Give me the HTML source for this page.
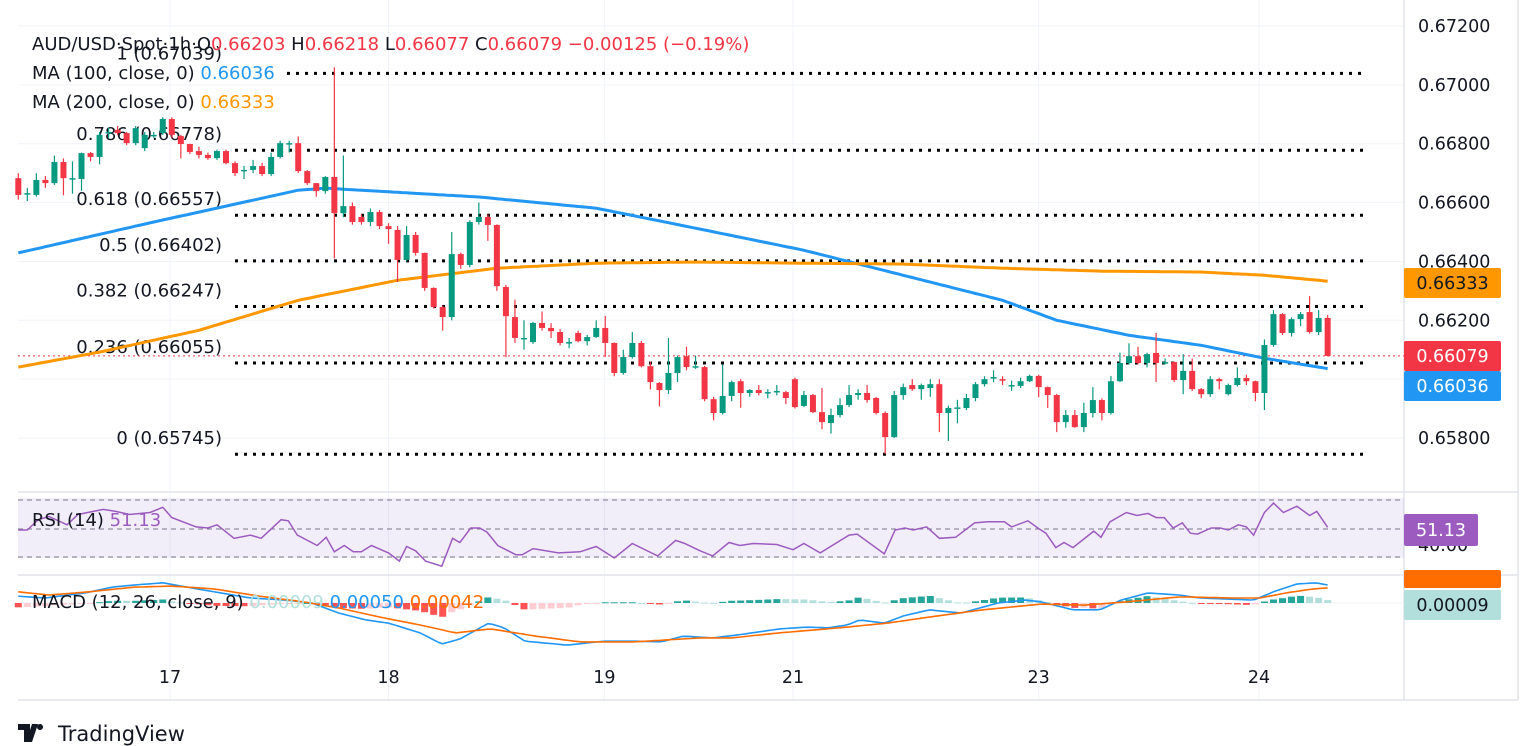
<!DOCTYPE html>
<html><head><meta charset="utf-8"><style>
html,body{margin:0;padding:0;background:#fff;}
svg{display:block;font-family:"DejaVu Sans","Liberation Sans",sans-serif;}
</style></head><body>
<svg id="chart" width="1536" height="746" viewBox="0 0 1536 746" xmlns="http://www.w3.org/2000/svg">
<rect x="0" y="0" width="1536" height="746" fill="#fff"/>
<g id="grid"></g>
<rect x="18" y="498" width="1386" height="60" fill="#7e57c2" fill-opacity="0.1"/>
<g id="fib"></g>
<g id="ma"></g>
<g id="candles"></g>
<g id="rsi"></g>
<g id="macd"></g>
<g id="axis"></g>
<g font-size="18">
<text x="32" y="50" fill="#131722">AUD/USD·Spot·1h·O<tspan fill="#f23645">0.66203</tspan> H<tspan fill="#f23645">0.66218</tspan> L<tspan fill="#f23645">0.66077</tspan> C<tspan fill="#f23645">0.66079</tspan> <tspan fill="#f23645">−0.00125 (−0.19%)</tspan></text>
<text x="32" y="79" fill="#131722">MA (100, close, 0) <tspan fill="#2196f3">0.66036</tspan></text>
<text x="32" y="108" fill="#131722">MA (200, close, 0) <tspan fill="#ff9800">0.66333</tspan></text>
<text x="32" y="526" fill="#131722">RSI (14) <tspan fill="#9c5bbf">51.13</tspan></text>
<text x="32" y="608" fill="#131722">MACD (12, 26, close, 9) <tspan fill="#b2dfdb">0.00009</tspan> <tspan fill="#2196f3">0.00050</tspan> <tspan fill="#ff6d00">0.00042</tspan></text>
</g>
<g>
<path d="M18 724h12v18h-6v-12h-6z M32 724h6l-6 18h-6z M40 724a3 3 0 1 0 0.01 0z" fill="#131722"/>
<text x="58" y="741" font-size="21" fill="#131722">TradingView</text>
</g>
</svg>
<script>
// ---- data ----
const opens=[.66683,.66632,.66626,.66677,.66666,.66738,.66683,.66680,.66768,.66755,.66840,.66847,.66836,.66802,.66785,.66830,.66836,.66884,.66826,.66799,.66775,.66762,.66751,.66775,.66734,.66711,.66711,.66724,.66697,.66755,.66802,.66802,.66707,.66666,.66639,.66687,.66564,.66588,.66551,.66534,.66568,.66520,.66507,.66405,.66490,.66429,.66310,.66245,.66211,.66425,.66388,.66534,.66551,.66524,.66313,.66211,.66140,.66126,.66191,.66174,.66160,.66126,.66157,.66129,.66143,.66174,.66123,.66021,.66075,.66123,.66044,.65987,.65963,.66021,.66078,.66041,.66041,.65932,.65885,.65943,.65993,.65953,.65963,.65956,.65956,.65956,.66000,.65909,.65946,.65888,.65851,.65878,.65912,.65946,.65953,.65936,.65885,.65803,.65946,.65980,.65966,.65970,.65983,.65885,.65902,.65902,.65936,.65983,.66004,.66000,.65980,.65977,.65993,.66011,.65973,.65946,.65854,.65878,.65837,.65885,.65929,.65885,.65993,.66055,.66078,.66055,.66089,.66058,.66058,.65997,.66028,.65966,.65949,.66000,.65949,.65980,.66004,.65993,.65953,.66116,.66221,.66157,.66204,.66228,.66160,.66208];
const closes=[.66626,.66632,.66677,.66666,.66738,.66683,.66683,.66768,.66755,.66830,.66840,.66836,.66802,.66853,.66830,.66830,.66884,.66830,.66799,.66772,.66762,.66751,.66775,.66734,.66700,.66711,.66724,.66697,.66755,.66802,.66802,.66707,.66666,.66639,.66687,.66564,.66588,.66534,.66534,.66568,.66520,.66510,.66405,.66490,.66429,.66310,.66245,.66211,.66425,.66388,.66534,.66551,.66524,.66316,.66214,.66140,.66140,.66191,.66174,.66163,.66123,.66126,.66129,.66143,.66174,.66123,.66021,.66075,.66123,.66044,.65990,.65963,.66021,.66075,.66041,.66044,.65932,.65885,.65943,.65990,.65953,.65963,.65953,.65956,.65960,.65936,.65905,.65946,.65888,.65854,.65878,.65912,.65946,.65953,.65929,.65885,.65803,.65946,.65973,.65966,.65980,.65983,.65885,.65902,.65904,.65936,.65983,.66000,.66007,.65997,.65980,.65993,.66011,.65973,.65946,.65854,.65878,.65837,.65885,.65929,.65885,.65993,.66055,.66078,.66055,.66085,.66055,.66058,.65997,.66028,.65966,.65949,.66000,.65993,.65980,.66004,.65993,.65953,.66116,.66221,.66157,.66204,.66221,.66160,.66208,.66079];
const highs=[.66700,.66650,.66700,.66690,.66760,.66750,.66740,.66770,.66772,.66840,.66855,.66860,.66840,.66860,.66840,.66840,.66890,.66890,.66830,.66800,.66790,.66770,.66780,.66780,.66740,.66725,.66745,.66735,.66770,.66810,.66810,.66825,.66710,.66666,.66690,.67060,.66760,.66600,.66560,.66580,.66575,.66530,.66520,.66520,.66500,.66430,.66312,.66250,.66500,.66430,.66540,.66600,.66560,.66526,.66320,.66270,.66200,.66195,.66230,.66190,.66170,.66140,.66165,.66150,.66200,.66215,.66125,.66100,.66160,.66130,.66060,.65990,.66140,.66080,.66110,.66080,.66045,.65940,.66050,.65995,.66000,.65966,.65980,.65966,.65980,.65960,.66005,.65960,.65950,.65970,.65900,.65935,.65980,.65966,.65980,.65940,.65890,.65960,.65985,.66000,.65985,.66000,.66000,.65910,.65930,.65950,.65990,.66010,.66030,.66010,.65995,.66005,.66015,.66015,.65975,.65950,.65895,.65895,.65920,.65973,.65935,.66011,.66090,.66122,.66110,.66090,.66157,.66070,.66060,.66085,.66070,.65970,.66010,.66005,.65985,.66040,.66015,.65995,.66135,.66235,.66225,.66210,.66228,.66282,.66235,.66218];
const lows=[.66610,.66605,.66620,.66650,.66660,.66625,.66630,.66640,.66740,.66730,.66820,.66830,.66795,.66795,.66775,.66820,.66830,.66820,.66750,.66765,.66750,.66745,.66745,.66730,.66690,.66680,.66700,.66690,.66690,.66750,.66770,.66700,.66660,.66620,.66630,.66410,.66550,.66525,.66525,.66520,.66510,.66460,.66330,.66400,.66420,.66300,.66240,.66165,.66200,.66375,.66380,.66525,.66470,.66300,.66075,.66123,.66100,.66120,.66165,.66140,.66115,.66105,.66125,.66115,.66140,.66075,.66010,.66015,.66070,.66040,.65965,.65907,.65950,.65990,.66030,.66035,.65925,.65860,.65880,.65925,.65903,.65940,.65945,.65935,.65945,.65915,.65900,.65905,.65885,.65830,.65815,.65870,.65905,.65930,.65920,.65880,.65745,.65800,.65930,.65960,.65930,.65940,.65820,.65790,.65850,.65895,.65925,.65975,.65990,.65980,.65960,.65970,.65990,.65939,.65902,.65820,.65835,.65835,.65820,.65870,.65860,.65880,.65990,.66050,.66050,.66040,.65990,.66050,.65990,.65949,.65960,.65935,.65940,.65965,.65945,.65975,.65980,.65925,.65895,.66110,.66150,.66145,.66180,.66155,.66150,.66077];
const ma100Idx=[0,15,31,34,51,64,75,87,98,109,115,123,131,138,145];
const ma100Val=[.66429,.66534,.66642,.66649,.66619,.66581,.66513,.66438,.66353,.66268,.66200,.66149,.66115,.66071,.66036];
const ma200Idx=[0,9,20,31,42,53,64,75,87,98,109,120,131,138,145];
const ma200Val=[.66041,.66092,.66166,.66268,.66336,.66377,.66394,.66398,.66394,.66391,.66377,.66367,.66364,.66353,.66333];
const fibRatios=["1","0.786","0.618","0.5","0.382","0.236","0"];
const fibPrices=[0.67039,0.66778,0.66557,0.66402,0.66247,0.66055,0.65745];
const priceTicks=[0.672,0.670,0.668,0.666,0.664,0.662,0.660,0.658];
const dayLabels=["17","18","19","21","23","24"];
const dayIdx=[16.8,41,64.9,85.8,113,137.4];
const rsiIdx=[0,1,2.2,3.4,5.4,6.6,9.4,10.8,12.3,14.6,16,17,19.7,21,22,23.9,25.7,26.9,29.1,29.9,30.9,33.1,34.1,35,36.1,37.1,38,39.1,41,42.2,43,44,45.1,46.9,48.1,48.9,50.1,51.1,51.9,53.1,55.1,55.8,57,59.8,62.2,64,66,68,70.8,72.8,73.8,75.5,76.9,78.7,79.9,81.4,84,85.8,87,88.8,92,92.9,95.9,97.1,98.2,99.1,100.6,102,103.8,105.9,107.4,109.2,110,111.8,112.9,113.8,114.9,115.8,116.8,119.1,119.9,120.9,122.7,123.9,125.1,126,126.9,127.9,128.9,129.8,130.6,132.1,133.1,134,135.1,136,136.8,138,139,140.1,141.6,143,143.8,145];
const rsiVal=[49.3,49.3,56.2,58.3,52.8,59.7,63.1,61.7,59.7,61.0,64.5,57.6,51.4,50.7,52.8,43.8,45.9,43.8,56.2,55.5,45.9,39.0,44.5,34.8,39.0,34.8,34.8,39.0,34.1,28.6,38.3,35.5,28.6,25.2,43.8,41.0,50.7,50.7,47.9,39.0,32.8,32.8,36.9,34.1,34.8,38.3,30.7,40.3,32.1,42.4,40.3,35.5,32.1,41.0,39.0,40.3,39.7,36.2,40.3,34.1,45.9,46.6,33.4,49.3,50.7,49.3,51.4,43.8,44.5,54.1,54.8,54.8,51.4,55.5,50.7,47.2,37.6,41.0,37.6,48.6,44.5,54.8,61.0,59.0,60.4,57.6,57.6,50.7,54.1,47.2,46.6,50.7,50.7,49.3,52.8,51.4,45.9,61.0,67.3,61.0,65.2,59.0,61.7,51.13];
const macdIdx=[0,3,7.4,10.4,12.8,16,18.7,21.7,25.7,29.6,32.5,35.5,38.5,41,42.7,44.5,46.9,48.9,52.1,53.8,56.1,60.8,64.8,68.2,71.2,73.6,76.9,79.6,84.3,87.3,89.7,91.8,93.2,95.9,98,100.9,104.4,108.5,111.5,113.3,116.8,119.8,122.1,125.1,128.6,130.8,133.9,136.8,139,141.6,143.7,145];
const macdVal=[.00019,.00014,.00028,.00044,.00050,.00056,.00044,.00031,.00014,.00008,0,-.00028,-.00047,-.00056,-.00069,-.00083,-.00114,-.00100,-.00056,-.00069,-.00106,-.00117,-.00106,-.00106,-.00108,-.00092,-.00097,-.00089,-.00072,-.00067,-.00069,-.00061,-.00047,-.00056,-.00036,-.00019,-.00028,0,.00008,.00003,-.00019,-.00019,.00008,.00028,.00022,.00014,.00011,.00008,.00031,.00053,.00056,.00050];
const sigIdx=[0,3.4,7.8,12.8,17,21.7,26.7,31.6,35.5,40,44.5,48.4,52.3,57.3,62.2,68.2,75.5,79,84.3,90.9,96.2,100.9,106.8,113.3,118,122.7,128.6,134.5,137.5,140.4,143.4,145];
const sigVal=[.00031,.00022,.00031,.00044,.00047,.00039,.00019,.00003,-.00014,-.00039,-.00061,-.00083,-.00072,-.00092,-.00108,-.00108,-.00097,-.00097,-.00083,-.00069,-.00056,-.00039,-.00019,-.00003,-.00006,.00003,.00017,.00014,.00014,.00028,.00039,.00042];

// ---- scales ----
const NS="http://www.w3.org/2000/svg";
const X=i=>18.3+i*9.03;
const Y=p=>26+(0.672-p)*29430;
const RY=v=>529-(v-50)*1.5;
const MY=v=>603-v*36000;
function mk(tag,attrs,parent){const e=document.createElementNS(NS,tag);for(const k in attrs)e.setAttribute(k,attrs[k]);parent.appendChild(e);return e;}
function interp(ix,vals,i){if(i<=ix[0])return vals[0];for(let k=1;k<ix.length;k++){if(i<=ix[k]){const t=(i-ix[k-1])/(ix[k]-ix[k-1]);return vals[k-1]+t*(vals[k]-vals[k-1]);}}return vals[vals.length-1];}

// grid
const grid=document.getElementById('grid');
priceTicks.forEach(p=>{const l=mk('line',{x1:18,x2:1404,y1:Y(p),y2:Y(p),stroke:'#f0f3fa','stroke-width':1},grid);

});
dayIdx.forEach(i=>{const l=mk('line',{x1:X(i),x2:X(i),y1:0,y2:700,stroke:'#f0f3fa','stroke-width':1},grid);

});
[[18,492,1518,492],[18,575,1518,575],[18,700,1518,700],[1518,0,1518,700],[1404,0,1404,700]].forEach(c=>{const l=mk('line',{x1:c[0],y1:c[1],x2:c[2],y2:c[3],stroke:'#e0e3eb','stroke-width':1.5},grid);

});
[500,529,557].forEach(y=>{const l=mk('line',{x1:18,x2:1404,y1:y,y2:y,stroke:'#787b86','stroke-width':1,'stroke-dasharray':'5 4'},grid);

});
const zl=mk('line',{x1:18,x2:1404,y1:603,y2:603,stroke:'#f0f3fa'},grid);



// fib
const fib=document.getElementById('fib');
fibPrices.forEach((p,k)=>{const y=Y(p);
const l=mk('line',{x1:k==0?287:235,x2:1365,y1:y,y2:y,stroke:'#000','stroke-width':3,'stroke-dasharray':'3 6'},fib);


const t=mk('text',{x:222,y:k==0?y-14:y-10,'text-anchor':'end','font-size':18,fill:'#131722'},fib);
t.textContent=fibRatios[k]+' ('+p.toFixed(5)+')';

});
const cl=mk('line',{x1:18,x2:1404,y1:Y(closes[closes.length-1]),y2:Y(closes[closes.length-1]),stroke:'#f23645','stroke-width':1,'stroke-dasharray':'2 3'},fib);



// MAs
const ma=document.getElementById('ma');
function line(ix,vals,yf,color,w,parent,name,n){let d='';for(let i=0;i<=n;i+=0.5){const v=interp(ix,vals,i);d+=(i?'L':'M')+X(i).toFixed(1)+' '+yf(v).toFixed(1);}
const p=mk('path',{d:d,fill:'none',stroke:color,'stroke-width':w,'stroke-linejoin':'round'},parent);

}
line(ma100Idx,ma100Val,Y,'#2196f3',3,ma,'ma100-line',145);
line(ma200Idx,ma200Val,Y,'#ff9800',3,ma,'ma200-line',145);

// candles
const cg=document.getElementById('candles');
opens.forEach((o,i)=>{const c=closes[i],up=c>=o,col=up?'#089981':'#f23645',x=X(i);
const w=mk('line',{x1:x,x2:x,y1:Y(highs[i]),y2:Y(lows[i]),stroke:col,'stroke-width':1.2},cg);


const top=Y(Math.max(o,c)),h=Math.max(1.5,Math.abs(Y(o)-Y(c)));
const b=mk('rect',{x:x-3,y:top,width:6,height:h,fill:col},cg);

});

// RSI
const rg=document.getElementById('rsi');
let rd='';rsiIdx.forEach((ix,k)=>{rd+=(k?'L':'M')+X(ix).toFixed(1)+' '+RY(rsiVal[k]).toFixed(1);});
const rp=mk('path',{d:rd,fill:'none',stroke:'#9c5bbf','stroke-width':1.5},rg);



// MACD
const mg=document.getElementById('macd');
let prev=null;
for(let i=0;i<=145;i++){const h=interp(macdIdx,macdVal,i)-interp(sigIdx,sigVal,i);
let col;if(h>=0)col=(prev!==null&&h<prev)?'#b2dfdb':'#26a69a';else col=(prev!==null&&h>prev)?'#ffcdd2':'#ff5252';
prev=h;const y0=MY(0),y1=MY(h);
const r=mk('rect',{x:X(i)-3.5,y:Math.min(y0,y1),width:7,height:Math.max(1,Math.abs(y1-y0)),fill:col},mg);

}
line(macdIdx,macdVal,MY,'#2196f3',1.6,mg,'macd-line',145);
line(sigIdx,sigVal,MY,'#ff6d00',1.6,mg,'signal-line',145);

// axis
const ax=document.getElementById('axis');
priceTicks.forEach(p=>{const t=mk('text',{x:1418,y:Y(p)+6,'font-size':17.5,fill:'#131722'},ax);
t.textContent=p.toFixed(5);

});
const t40=mk('text',{x:1418,y:551,'font-size':17.5,fill:'#131722'},ax);t40.textContent='40.00';


dayLabels.forEach((d,k)=>{const t=mk('text',{x:X(dayIdx[k]),y:683,'text-anchor':'middle','font-size':17.5,fill:'#131722'},ax);
t.textContent=d;

});
function badge(y,h,w,bg,fg,txt,name){const r=mk('rect',{x:1404,y:y,width:w,height:h,rx:2,fill:bg},ax);


const t=mk('text',{x:1404+w/2,y:y+h/2+6,'text-anchor':'middle','font-size':17.5,fill:fg},ax);
t.textContent=txt;

}
badge(268,30,97,'#ff9800','#131722','0.66333','ma200-badge');
badge(341,30,97,'#f23645','#fff','0.66079','last-price-badge');
badge(371,30,97,'#2196f3','#fff','0.66036','ma100-badge');
badge(514,32,74,'#9c5bbf','#fff','51.13','rsi-badge');
badge(570,18,97,'#ff6d00','#fff','','signal-badge');
badge(590,30,97,'#b2dfdb','#131722','0.00009','hist-badge');
</script>
</body></html>
